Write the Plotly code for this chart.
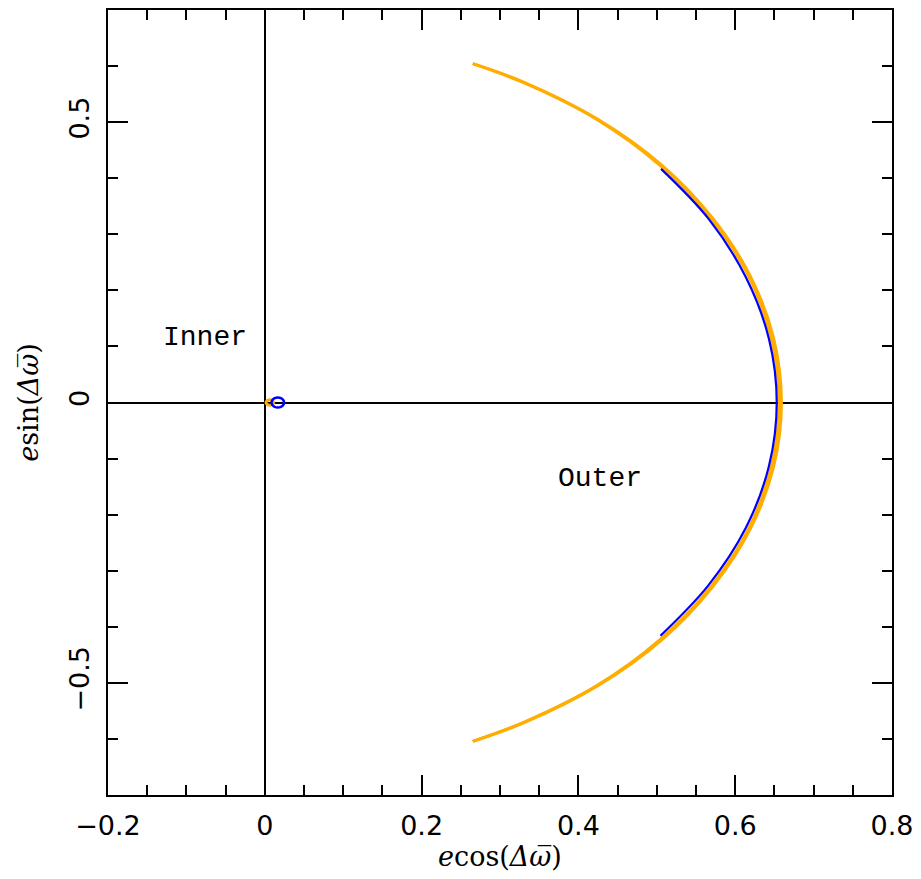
import numpy as np
import plotly.graph_objects as go

# ---- data ----
# outer planet: angle (deg) of Δϖ and eccentricity, two overlapping passes
outer_angle_deg = [-66.3, -60, -50, -40, -30, -20, -10, 0, 10, 20, 30, 40, 50, 60, 66.3]
outer_e_pass1 = [0.660, 0.659, 0.659, 0.658, 0.657, 0.657, 0.656, 0.656, 0.656, 0.657, 0.657, 0.658, 0.659, 0.659, 0.660]
outer_e_pass2 = [0.660, 0.660, 0.660, 0.660, 0.659, 0.659, 0.659, 0.659, 0.659, 0.659, 0.659, 0.660, 0.660, 0.660, 0.660]
# blue outer arc
blue_angle_deg = [-39.5, -30, -20, -10, 0, 10, 20, 30, 39.5]
blue_e = [0.654, 0.653, 0.653, 0.653, 0.653, 0.653, 0.653, 0.654, 0.655]
# inner planet loops (e cos, e sin)
inner_orange_x = [0.0111, 0.0105, 0.0088, 0.0064, 0.0041, 0.0023, 0.0017, 0.0023, 0.0041, 0.0064, 0.0088, 0.0105, 0.0111]
inner_orange_y = [0.0, 0.0024, 0.0042, 0.0048, 0.0042, 0.0024, 0.0, -0.0024, -0.0042, -0.0048, -0.0042, -0.0024, 0.0]
inner_blue_x = [0.0246, 0.0235, 0.0206, 0.0166, 0.0126, 0.0097, 0.0086, 0.0097, 0.0126, 0.0166, 0.0206, 0.0235, 0.0246]
inner_blue_y = [0.0, 0.0045, 0.0077, 0.0089, 0.0077, 0.0045, 0.0, -0.0045, -0.0077, -0.0089, -0.0077, -0.0045, 0.0]

x_ticks = [-0.2, 0, 0.2, 0.4, 0.6, 0.8]
x_tick_labels = ["\u22120.2", "0", "0.2", "0.4", "0.6", "0.8"]
y_ticks = [-0.5, 0, 0.5]
y_tick_labels = ["\u22120.5", "0", "0.5"]

ORANGE = "#FFAD00"
BLUE = "#0000FF"

def polar(ang, e):
    a = np.radians(ang)
    e = np.asarray(e)
    return e * np.cos(a), e * np.sin(a)

fig = go.Figure()
for e_list in (outer_e_pass1, outer_e_pass2):
    x, y = polar(outer_angle_deg, e_list)
    fig.add_trace(go.Scatter(x=x, y=y, mode="lines", line=dict(color=ORANGE, width=3, shape="spline")))
fig.add_trace(go.Scatter(x=inner_orange_x, y=inner_orange_y, mode="lines",
                         line=dict(color=ORANGE, width=3, shape="spline")))
bx, by = polar(blue_angle_deg, blue_e)
fig.add_trace(go.Scatter(x=bx, y=by, mode="lines", line=dict(color=BLUE, width=2.2, shape="spline")))
fig.add_trace(go.Scatter(x=inner_blue_x, y=inner_blue_y, mode="lines",
                         line=dict(color=BLUE, width=2.5, shape="spline")))

FONT = "DejaVu Sans"
LABFONT = "Liberation Mono"
TITLEFONT = "DejaVu Serif"

axis_common = dict(
    showgrid=False, zeroline=True, zerolinecolor="black", zerolinewidth=1.5,
    showline=True, linecolor="black", linewidth=2, mirror="allticks",
    ticks="inside", ticklen=20, tickwidth=1.5, tickcolor="black",
    tickfont=dict(family=FONT, size=27, color="black"),
)
fig.update_xaxes(range=[-0.2, 0.8], tickvals=x_ticks, ticktext=x_tick_labels,
                 minor=dict(ticks="inside", ticklen=10, tickwidth=1.5, tickcolor="black", dtick=0.05, tick0=0),
                 ticklabelstandoff=6,
                 title=dict(text="<i>e</i>cos(<i>\u0394\u03c9\u0305</i>)", font=dict(family=TITLEFONT, size=27, color="black"), standoff=4),
                 **axis_common)
fig.update_yaxes(range=[-0.7, 0.7], tickvals=y_ticks, ticktext=y_tick_labels, tickangle=-90,
                 minor=dict(ticks="inside", ticklen=10, tickwidth=1.5, tickcolor="black", dtick=0.1, tick0=0),
                 ticklabelstandoff=6,
                 title=dict(text="<i>e</i>sin(<i>\u0394\u03c9\u0305</i>)", font=dict(family=TITLEFONT, size=27, color="black"), standoff=18),
                 **axis_common)

fig.add_annotation(x=-0.076, y=0.116, text="Inner", showarrow=False,
                   font=dict(family=LABFONT, size=28, color="black"))
fig.add_annotation(x=0.428, y=-0.135, text="Outer", showarrow=False,
                   font=dict(family=LABFONT, size=28, color="black"))

fig.update_layout(width=921, height=879, margin=dict(l=108, r=28, t=8, b=84),
                  plot_bgcolor="white", paper_bgcolor="white", showlegend=False)
fig.write_html("out.html")
